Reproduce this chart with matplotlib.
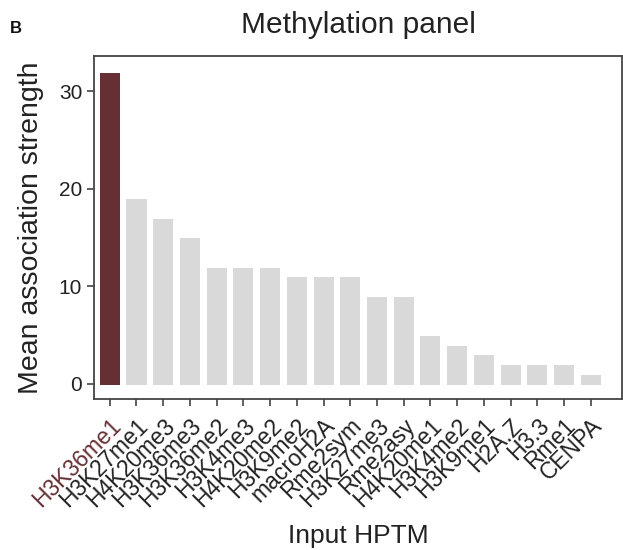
import numpy as np
import matplotlib
matplotlib.use("Agg")
import matplotlib.pyplot as plt

plt.rcParams['font.family'] = ['Liberation Sans', 'DejaVu Sans']

labels = ["H3K36me1", "H3K27me1", "H4K20me3", "H3K36me3", "H3K36me2", "H3K4me3",
          "H4K20me2", "H3K9me2", "macroH2A", "Rme2sym", "H3K27me3", "Rme2asy",
          "H4K20me1", "H3K4me2", "H3K9me1", "H2A.Z", "H3.3", "Rme1", "CENPA"]
values = [32, 19, 17, 15, 12, 12, 12, 11, 11, 11, 9, 9, 5, 4, 3, 2, 2, 2, 1]
highlight = "H3K36me1"

dark = "#652F33"
grey = "#D9D9D9"
txt = "#222222"
colors = [dark if l == highlight else grey for l in labels]

fig = plt.figure(figsize=(6.23, 5.5), dpi=100)
ax = fig.add_axes([94/623, 1-399/550, (622-94)/623, (399-56)/550])

x = np.arange(len(labels))
ax.bar(x, values, width=0.75, color=colors, bottom=-0.1)

ax.set_xlim(-0.59, 19.17)
ax.set_ylim(-1.57, 33.6)
ax.set_yticks([0, 10, 20, 30])
ax.set_xticks(x)
ax.set_xticklabels(labels, rotation=45, ha='right', rotation_mode='anchor')

for s in ax.spines.values():
    s.set_color("#444444")
    s.set_linewidth(1.3)
ax.tick_params(axis='both', direction='out', length=5, width=1.2, color="#444444", labelsize=15,
               labelcolor=txt)
ax.tick_params(axis='x', pad=6)
# bigger rotated names, highlighted one in the bar colour
for t, l in zip(ax.get_xticklabels(), labels):
    t.set_fontsize(16.5)
    if l == highlight:
        t.set_color(dark)

ax.set_ylabel("Mean association strength", fontsize=20.5, color=txt, labelpad=11)
ax.set_xlabel("Input HPTM", fontsize=19, color=txt, labelpad=9)
ax.set_title("Methylation panel", fontsize=21.5, pad=16.5, color=txt)
fig.text(10/623, 1-33/550, "B", fontsize=12, fontweight='bold', color="#111111")

fig.savefig("out.png", dpi=100)
